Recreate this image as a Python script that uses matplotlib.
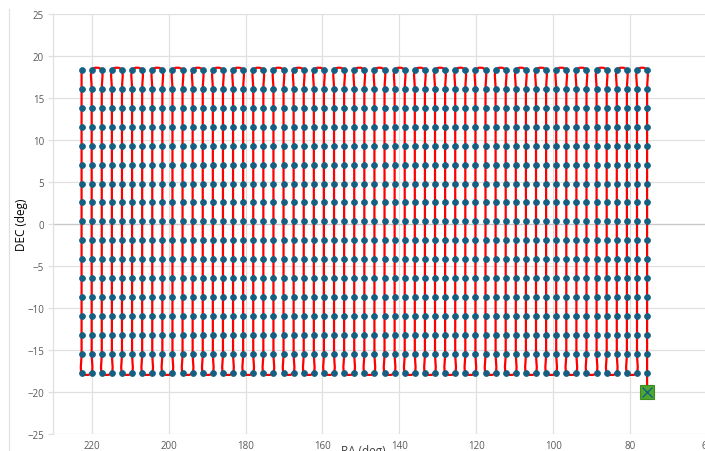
import numpy as np
import matplotlib
matplotlib.use("Agg")
import matplotlib.pyplot as plt
from matplotlib.path import Path
from matplotlib.patches import PathPatch
from matplotlib.lines import Line2D

# scan grid: RA columns and DEC rows (deg)
ra_cols = [222.625 - 2.625 * j for j in range(57)]
dec_rows = [18.3 - 2.25 * i for i in range(17)]
end_pt = (75.625, -20.0)

# serpentine ordering: odd columns go down, even go up
ra_pts = []
dec_pts = []
for j, ra in enumerate(ra_cols):
    rows = dec_rows if j % 2 == 0 else dec_rows[::-1]
    for d in rows:
        ra_pts.append(ra)
        dec_pts.append(d)
ra_pts.append(end_pt[0])
dec_pts.append(end_pt[1])

pts = np.column_stack([ra_pts, dec_pts])


def smooth_path(p):
    # excel-ish smoothed line: catmull-rom as cubic beziers
    verts = [p[0]]
    codes = [Path.MOVETO]
    n = len(p)
    for i in range(n - 1):
        p0 = p[i - 1] if i > 0 else p[i]
        p1 = p[i]
        p2 = p[i + 1]
        p3 = p[i + 2] if i + 2 < n else p[i + 1]
        c1 = p1 + (p2 - p0) / 6.0
        c2 = p2 - (p3 - p1) / 6.0
        verts += [c1, c2, p2]
        codes += [Path.CURVE4] * 3
    return Path(verts, codes)


W, H = 705, 452
fig = plt.figure(figsize=(W / 100, H / 100), dpi=100)
ax = fig.add_axes([53.2 / W, 1 - 435 / H, (707.2 - 53.2) / W, (435 - 14.7) / H])

ax.set_xlim(230, 60)
ax.set_ylim(-25, 25)
ax.set_xticks(range(220, 59, -20))
ax.set_yticks(range(-25, 26, 5))

grid_c = "#e0e0e0"
ax.grid(True, color=grid_c, lw=0.9, zorder=0)
ax.set_axisbelow(True)
for s in ["top", "right", "bottom"]:
    ax.spines[s].set_visible(False)
ax.spines["left"].set_color(grid_c)
ax.spines["left"].set_linewidth(0.9)
ax.axhline(0, color="#c8c8c8", lw=0.9, zorder=1)

ax.tick_params(axis="y", length=3.5, width=0.9, color=grid_c, pad=3,
               labelsize=7, labelcolor="#595959")
ax.tick_params(axis="x", length=0, pad=4, labelsize=7, labelcolor="#595959")
for lab in ax.get_xticklabels() + ax.get_yticklabels():
    lab.set_family("Open Sans")

ax.add_patch(PathPatch(smooth_path(pts), facecolor="none", edgecolor="#ff0000",
                       lw=1.6, zorder=2))
ax.plot(ra_pts[:-1], dec_pts[:-1], ls="none", marker="o", ms=4.3,
        mfc="#156082", mec="#156082", mew=0.5, zorder=3)
ax.plot([end_pt[0]], [end_pt[1]], ls="none", marker="s", ms=9.5,
        mfc="#4ea72e", mec="#3b8a22", mew=0.8, zorder=4)
ax.plot([end_pt[0]], [end_pt[1]], ls="none", marker="x", ms=7,
        mec="#156082", mew=1.0, zorder=5)

fig.text(22 / W, 1 - 225 / H, "DEC (deg)", rotation=90, ha="center", va="center",
         fontsize=8.5, color="#000000", family="Open Sans")
fig.text(363 / W, 1 - 445 / H, "RA (deg)", ha="center", va="top",
         fontsize=8.5, color="#404040", family="Open Sans")

fig.add_artist(Line2D([8.5 / W, 8.5 / W], [0, 1 - 10 / H], transform=fig.transFigure,
                      color=grid_c, lw=0.9))

fig.savefig("out.png", dpi=100)
